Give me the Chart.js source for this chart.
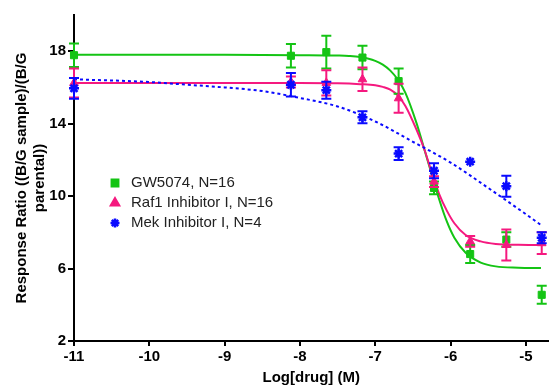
<!DOCTYPE html>
<html lang="en">
<head>
<meta charset="UTF-8">
<title>Response Ratio vs Log[drug]</title>
<script src="https://cdn.jsdelivr.net/npm/chart.js"></script>
<style>
  html, body { margin: 0; padding: 0; background: #fff; overflow: hidden; }
  /* a little wider than the window: Chart.js keeps a few px free on the right */
  #wrap { width: 556px; height: 386px; }
</style>
</head>
<body>
<div id="wrap"><canvas id="doseChart"></canvas></div>
<script>
// measured points (log molar), means and SEM
const doses = [-11, -8.12, -7.65, -7.17, -6.69, -6.22, -5.74, -5.26, -4.79];
const gwMean = [17.78, 17.75, 17.95, 17.65, 16.35, 10.45, 6.8, 7.6, 4.55];
const gwErr = [0.65, 0.65, 0.9, 0.65, 0.7, 0.35, 0.5, 0.4, 0.5];
const rafMean = [16.25, 16.3, 16.25, 16.45, 15.4, 10.8, 7.5, 7.3, 7.4];
const rafErr = [0.8, 0.3, 0.7, 0.65, 0.8, 0.3, 0.3, 0.85, 0.6];
const mekMean = [15.95, 16.15, 15.85, 14.35, 12.35, 11.4, 11.9, 10.55, 7.7];
const mekErr = [0.57, 0.65, 0.47, 0.33, 0.35, 0.42, 0, 0.58, 0.3];

// fitted curves
const gwFitX = [-11, -9, -8, -7.5, -7.35, -7.2, -7.0, -6.9, -6.8, -6.7, -6.6, -6.45, -6.35, -6.25, -6.15, -6.05, -5.95, -5.8, -5.6, -5.4, -5.1, -4.8];
const gwFitY = [17.8, 17.8, 17.78, 17.76, 17.74, 17.68, 17.47, 17.26, 16.93, 16.43, 15.7, 14.0, 12.6, 11.2, 9.8, 8.6, 7.7, 6.87, 6.33, 6.12, 6.05, 6.03];
const rafFitX = [-11, -9, -8, -7.5, -7.2, -7.0, -6.9, -6.8, -6.7, -6.6, -6.45, -6.35, -6.25, -6.15, -6.05, -5.95, -5.8, -5.6, -5.4, -5.1, -4.8];
const rafFitY = [16.25, 16.25, 16.25, 16.23, 16.18, 16.12, 16.03, 15.88, 15.55, 14.98, 13.65, 12.6, 11.3, 10.1, 9.2, 8.5, 7.85, 7.5, 7.36, 7.31, 7.3];
const mekFitX = [-11, -10, -9.5, -9, -8.5, -8, -7.5, -7, -6.5, -6, -5.5, -5, -4.8];
const mekFitY = [16.45, 16.3, 16.15, 16.0, 15.8, 15.42, 14.95, 14.12, 13.0, 11.85, 10.45, 9.0, 8.4];

const xTicks = [-11, -10, -9, -8, -7, -6, -5];
const yTicks = [2, 6, 10, 14, 18];

const GREEN = '#14c414';
const PINK = '#f5197f';
const BLUE = '#0a0aff';
const FONT = '"Liberation Sans", Arial, sans-serif';

function pairs(xs, ys) {
  return xs.map((x, i) => ({ x: x, y: ys[i] }));
}

// error bars go under the markers of their own dataset
const errorBars = {
  id: 'errorBars',
  beforeDatasetDraw(chart, args) {
    const ds = chart.data.datasets[args.index];
    if (!ds.errors) return;
    const ctx = chart.ctx;
    const xs = chart.scales.x, ys = chart.scales.y;
    ctx.save();
    ctx.strokeStyle = ds.borderColor;
    ctx.lineWidth = 2;
    ds.data.forEach((p, i) => {
      const e = ds.errors[i];
      if (!e) return;
      const px = xs.getPixelForValue(p.x);
      const top = ys.getPixelForValue(p.y + e);
      const bot = ys.getPixelForValue(p.y - e);
      ctx.beginPath();
      ctx.moveTo(px, top); ctx.lineTo(px, bot);
      ctx.moveTo(px - 5, top); ctx.lineTo(px + 5, top);
      ctx.moveTo(px - 5, bot); ctx.lineTo(px + 5, bot);
      ctx.stroke();
    });
    ctx.restore();
  }
};

// legend sits inside the plot, left middle
const innerLegend = {
  id: 'innerLegend',
  afterDraw(chart) {
    const ctx = chart.ctx;
    const items = chart.data.datasets.filter(d => d.errors).reverse();
    ctx.save();
    ctx.font = '15px ' + FONT;
    ctx.textBaseline = 'middle';
    items.forEach((d, i) => {
      const y = 183 + i * 20;
      ctx.fillStyle = d.backgroundColor;
      ctx.strokeStyle = d.borderColor;
      Chart.helpers.drawPoint(ctx, {
        pointStyle: d.pointStyle, radius: 4.5, rotation: 0, borderWidth: d.pointStyle === 'star' ? 2.5 : 1
      }, 115, y);
      ctx.fillStyle = '#222';
      ctx.fillText(d.label, 131, y);
    });
    ctx.restore();
  }
};

const tickFont = { family: FONT, size: 15, weight: 'bold' };

new Chart(document.getElementById('doseChart'), {
  type: 'scatter',
  data: {
    datasets: [
      {
        label: 'Mek Inhibitor I, N=4', data: pairs(doses, mekMean), errors: mekErr,
        pointStyle: 'star', pointRadius: 5, borderWidth: 2.5,
        backgroundColor: BLUE, borderColor: BLUE, order: 1, clip: false
      },
      {
        label: 'Raf1 Inhibitor I, N=16', data: pairs(doses, rafMean), errors: rafErr,
        pointStyle: 'triangle', pointRadius: 5, borderWidth: 1,
        backgroundColor: PINK, borderColor: PINK, order: 2, clip: false
      },
      {
        label: 'GW5074, N=16', data: pairs(doses, gwMean), errors: gwErr,
        pointStyle: 'rect', pointRadius: 5, borderWidth: 1,
        backgroundColor: GREEN, borderColor: GREEN, order: 3, clip: false
      },
      {
        label: 'Mek fit', type: 'line', data: pairs(mekFitX, mekFitY),
        borderColor: BLUE, borderWidth: 2, borderDash: [3, 3], pointRadius: 0,
        cubicInterpolationMode: 'monotone', fill: false, order: 4, clip: false
      },
      {
        label: 'Raf1 fit', type: 'line', data: pairs(rafFitX, rafFitY),
        borderColor: PINK, borderWidth: 2, pointRadius: 0,
        cubicInterpolationMode: 'monotone', fill: false, order: 5, clip: false
      },
      {
        label: 'GW5074 fit', type: 'line', data: pairs(gwFitX, gwFitY),
        borderColor: GREEN, borderWidth: 2, pointRadius: 0,
        cubicInterpolationMode: 'monotone', fill: false, order: 6, clip: false
      }
    ]
  },
  options: {
    responsive: true,
    maintainAspectRatio: false,
    animation: false,
    layout: { padding: { top: 15, right: 1, left: 0, bottom: 0 } },
    plugins: {
      legend: { display: false },
      tooltip: { enabled: false }
    },
    scales: {
      x: {
        type: 'linear', min: -11, max: -4.7,
        afterBuildTicks: s => { s.ticks = xTicks.map(v => ({ value: v })); },
        afterFit: s => { s.height = 45; s.paddingRight = 0; s.paddingLeft = 0; },
        border: { color: '#000', width: 2 },
        grid: { drawOnChartArea: false, drawTicks: true, tickLength: 5, color: '#000', lineWidth: 2 },
        ticks: { color: '#000', font: tickFont, padding: 2, maxRotation: 0 },
        title: {
          display: true, text: 'Log[drug] (M)', color: '#000',
          font: { family: FONT, size: 15, weight: 'bold', lineHeight: 1.1 },
          padding: { top: 0, bottom: 0 }
        }
      },
      y: {
        type: 'linear', min: 2, max: 20,
        afterBuildTicks: s => { s.ticks = yTicks.map(v => ({ value: v })); },
        afterFit: s => { s.width = 74; },
        border: { color: '#000', width: 2 },
        grid: { drawOnChartArea: false, drawTicks: true, tickLength: 6, color: '#000', lineWidth: 2 },
        ticks: { color: '#000', font: tickFont, padding: 2 },
        title: {
          display: true, text: ['Response Ratio ((B/G sample)/(B/G', 'parental))'], color: '#000',
          font: { family: FONT, size: 15, weight: 'bold', lineHeight: 1.2 },
          padding: { top: 13, bottom: 0 }
        }
      }
    }
  },
  plugins: [errorBars, innerLegend]
});
</script>
</body>
</html>
